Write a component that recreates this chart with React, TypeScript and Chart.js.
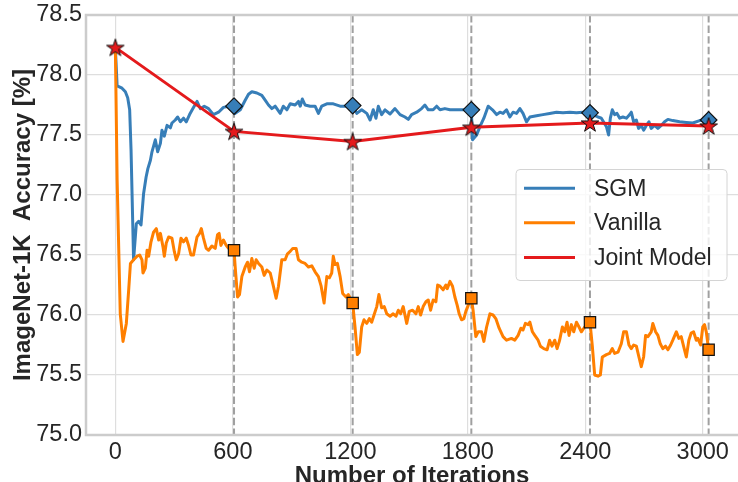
import React, { useEffect, useRef } from "react";
import { Chart, registerables } from "chart.js";

Chart.register(...registerables);

// ---------- data ----------
const xTicks = [0, 600, 1200, 1800, 2400, 3000];
const yTicks = [75.0, 75.5, 76.0, 76.5, 77.0, 77.5, 78.0, 78.5];
const seriesNames = ["SGM", "Vanilla", "Joint Model"];

const epochIters = [0, 606, 1212, 1818, 2424, 3030];
const jointAcc = [78.23, 77.53, 77.445, 77.565, 77.6, 77.575];
const sgmEpochAcc = [77.74, 77.745, 77.71, 77.685, 77.625];
const vanillaEpochAcc = [76.54, 76.1, 76.14, 75.94, 75.71];

const sgmPoints: [number, number][] = [
  [0, 78.22], [9, 77.91], [34, 77.89], [51, 77.86], [63, 77.81], [73, 77.71], [80, 77.38], [93, 76.46],
  [107, 76.76], [119, 76.78], [131, 76.75], [144, 77.01], [157, 77.15], [166, 77.22], [179, 77.29],
  [187, 77.36], [204, 77.46], [216, 77.36], [230, 77.43], [238, 77.54], [250, 77.49], [264, 77.58],
  [281, 77.56], [289, 77.6], [306, 77.625], [318, 77.65], [332, 77.61], [348, 77.64], [362, 77.61],
  [379, 77.67], [396, 77.72], [417, 77.78], [434, 77.72], [454, 77.74], [476, 77.72], [501, 77.67],
  [527, 77.69], [552, 77.73], [578, 77.74], [606, 77.74],
  [612, 77.68], [638, 77.71], [663, 77.79], [680, 77.84], [697, 77.86], [723, 77.85], [748, 77.83],
  [765, 77.79], [782, 77.75], [799, 77.72], [816, 77.74], [842, 77.68], [858, 77.74], [876, 77.71],
  [893, 77.76], [918, 77.75], [935, 77.78], [944, 77.74], [955, 77.8], [969, 77.75], [995, 77.74],
  [1020, 77.74], [1037, 77.68], [1054, 77.74], [1080, 77.76], [1113, 77.76], [1148, 77.74],
  [1182, 77.74], [1212, 77.745],
  [1233, 77.68], [1258, 77.71], [1284, 77.68], [1301, 77.625], [1317, 77.71], [1331, 77.64],
  [1343, 77.74], [1360, 77.67], [1377, 77.71], [1403, 77.675], [1428, 77.72], [1454, 77.67],
  [1479, 77.65], [1496, 77.63], [1513, 77.67], [1539, 77.69], [1564, 77.72], [1581, 77.75],
  [1598, 77.71], [1623, 77.71], [1641, 77.74], [1658, 77.71], [1683, 77.72], [1709, 77.71],
  [1743, 77.71], [1776, 77.71], [1818, 77.71],
  [1824, 77.46], [1845, 77.5], [1862, 77.57], [1882, 77.64], [1904, 77.74], [1926, 77.71],
  [1947, 77.67], [1964, 77.69], [1980, 77.68], [1998, 77.71], [2015, 77.65], [2031, 77.69],
  [2049, 77.68], [2066, 77.72], [2082, 77.68], [2100, 77.61], [2117, 77.65], [2151, 77.66],
  [2184, 77.67], [2218, 77.68], [2253, 77.69], [2286, 77.685], [2321, 77.69], [2355, 77.685],
  [2388, 77.69], [2424, 77.685],
  [2439, 77.67], [2465, 77.65], [2482, 77.64], [2508, 77.57], [2519, 77.5], [2528, 77.64],
  [2538, 77.71], [2550, 77.67], [2562, 77.68], [2576, 77.64], [2592, 77.65], [2610, 77.64],
  [2627, 77.67], [2635, 77.69], [2647, 77.61], [2661, 77.625], [2672, 77.555], [2686, 77.58],
  [2698, 77.54], [2712, 77.58], [2725, 77.61], [2737, 77.555], [2754, 77.58], [2771, 77.555],
  [2788, 77.58], [2805, 77.61], [2822, 77.63], [2847, 77.62], [2882, 77.61], [2916, 77.605],
  [2949, 77.6], [2984, 77.62], [3030, 77.625],
];

const vanillaPoints: [number, number][] = [
  [0, 78.22], [9, 77.125], [25, 76.01], [39, 75.78], [56, 75.93], [68, 76.21], [77, 76.43], [93, 76.46],
  [111, 76.49], [124, 76.5], [136, 76.46], [141, 76.35], [153, 76.39], [162, 76.54], [170, 76.49],
  [182, 76.61], [195, 76.69], [209, 76.72], [221, 76.625], [230, 76.68], [243, 76.57], [250, 76.49],
  [260, 76.6], [272, 76.65], [289, 76.64], [301, 76.53], [311, 76.46], [323, 76.51], [335, 76.64],
  [348, 76.61], [362, 76.64], [374, 76.58], [386, 76.5], [399, 76.5], [417, 76.65], [430, 76.68],
  [439, 76.72], [450, 76.64], [464, 76.555], [476, 76.54], [493, 76.575], [510, 76.555], [522, 76.67],
  [530, 76.68], [539, 76.58], [552, 76.625], [566, 76.58], [578, 76.555], [606, 76.54],
  [612, 76.4], [624, 76.15], [634, 76.17], [646, 76.32], [663, 76.4], [675, 76.44], [685, 76.36],
  [697, 76.47], [709, 76.39], [719, 76.46], [731, 76.43], [748, 76.4], [760, 76.33], [774, 76.375],
  [791, 76.35], [807, 76.24], [821, 76.14], [833, 76.24], [850, 76.46], [867, 76.46], [879, 76.51],
  [893, 76.53], [906, 76.555], [923, 76.555], [935, 76.46], [952, 76.44], [969, 76.43], [986, 76.4],
  [1003, 76.41], [1020, 76.36], [1037, 76.32], [1051, 76.24], [1066, 76.1], [1080, 76.32],
  [1093, 76.31], [1105, 76.35], [1113, 76.49], [1122, 76.42], [1134, 76.43], [1148, 76.32],
  [1161, 76.18], [1178, 76.15], [1190, 76.17], [1212, 76.1],
  [1224, 75.9], [1236, 75.67], [1246, 75.69], [1258, 75.9], [1270, 75.96], [1284, 75.93],
  [1297, 75.97], [1309, 75.94], [1321, 76.0], [1335, 76.07], [1346, 76.17], [1360, 76.06],
  [1373, 76.07], [1386, 76.01], [1403, 75.99], [1419, 76.01], [1433, 75.99], [1445, 76.04],
  [1457, 76.01], [1470, 76.07], [1488, 75.93], [1501, 76.03], [1518, 76.04], [1535, 76.01],
  [1547, 76.07], [1559, 76.0], [1572, 76.07], [1586, 76.11], [1598, 76.125], [1610, 76.04],
  [1623, 76.125], [1637, 76.11], [1646, 76.25], [1658, 76.24], [1674, 76.21], [1688, 76.25],
  [1695, 76.22], [1709, 76.28], [1722, 76.24], [1734, 76.15], [1746, 76.08], [1756, 76.01],
  [1768, 75.96], [1780, 75.97], [1790, 76.03], [1802, 76.08], [1818, 76.14],
  [1827, 76.04], [1841, 75.82], [1853, 75.86], [1870, 75.86], [1882, 75.78], [1896, 75.9],
  [1913, 76.01], [1929, 76.0], [1943, 75.97], [1960, 75.89], [1980, 75.82], [1998, 75.79],
  [2023, 75.805], [2040, 75.79], [2057, 75.83], [2071, 75.89], [2082, 75.875], [2094, 75.93],
  [2108, 75.92], [2117, 75.94], [2130, 75.86], [2142, 75.83], [2159, 75.79], [2171, 75.74],
  [2188, 75.72], [2205, 75.71], [2218, 75.79], [2230, 75.74], [2244, 75.79], [2256, 75.72],
  [2269, 75.79], [2283, 75.9], [2295, 75.86], [2307, 75.94], [2317, 75.83], [2329, 75.92],
  [2341, 75.86], [2355, 75.94], [2368, 75.9], [2380, 75.86], [2397, 75.9], [2424, 75.94],
  [2436, 75.74], [2448, 75.5], [2465, 75.49], [2477, 75.5], [2487, 75.65], [2508, 75.67],
  [2524, 75.68], [2538, 75.72], [2550, 75.68], [2567, 75.69], [2584, 75.76], [2596, 75.86],
  [2610, 75.86], [2623, 75.75], [2635, 75.72], [2647, 75.75], [2661, 75.74], [2674, 75.65],
  [2686, 75.57], [2698, 75.65], [2708, 75.83], [2720, 75.82], [2737, 75.86], [2745, 75.93],
  [2759, 75.86], [2771, 75.83], [2783, 75.76], [2796, 75.72], [2810, 75.74], [2822, 75.71],
  [2836, 75.75], [2847, 75.79], [2865, 75.86], [2878, 75.805], [2890, 75.82], [2902, 75.74],
  [2916, 75.65], [2929, 75.79], [2941, 75.85], [2953, 75.86], [2967, 75.79], [2975, 75.805],
  [2989, 75.75], [3000, 75.9], [3009, 75.92], [3018, 75.86], [3030, 75.71],
];

// ---------- style ----------
const BLUE = "#377eb8";
const ORANGE = "#ff7f00";
const RED = "#e41a1c";
const FONT = "'Liberation Sans', Arial, Helvetica, sans-serif";
const TEXT = "#262626";
const W = 738;
const H = 482;

function makeStar(R: number, fill: string, stroke: string, lw: number): HTMLCanvasElement {
  const half = Math.ceil(R + lw + 1);
  const c = document.createElement("canvas");
  c.width = half * 2;
  c.height = half * 2;
  const ctx = c.getContext("2d")!;
  const r = R * 0.381966;
  ctx.beginPath();
  for (let i = 0; i < 10; i++) {
    const rad = i % 2 === 0 ? R : r;
    const a = -Math.PI / 2 + (i * Math.PI) / 5;
    const px = half + rad * Math.cos(a);
    const py = half + 0.8 + rad * Math.sin(a);
    if (i === 0) ctx.moveTo(px, py);
    else ctx.lineTo(px, py);
  }
  ctx.closePath();
  ctx.fillStyle = fill;
  ctx.fill();
  ctx.lineWidth = lw;
  ctx.strokeStyle = stroke;
  ctx.lineJoin = "miter";
  ctx.stroke();
  return c;
}

const decorPlugin = {
  id: "decor",
  beforeDatasetsDraw(chart: any) {
    const { ctx, chartArea } = chart;
    const xs = chart.scales.x;
    ctx.save();
    // dashed epoch lines
    ctx.strokeStyle = "rgba(128,128,128,0.75)";
    ctx.lineWidth = 2;
    ctx.setLineDash([7.4, 3.2]);
    epochIters.slice(1).forEach((it) => {
      const px = xs.getPixelForValue(it);
      ctx.beginPath();
      ctx.moveTo(px, chartArea.top);
      ctx.lineTo(px, chartArea.bottom);
      ctx.stroke();
    });
    ctx.setLineDash([]);
    // spines
    ctx.strokeStyle = "#cccccc";
    ctx.lineWidth = 2.5;
    ctx.beginPath();
    ctx.moveTo(chartArea.right + 2, chartArea.top);
    ctx.lineTo(chartArea.left, chartArea.top);
    ctx.lineTo(chartArea.left, chartArea.bottom);
    ctx.lineTo(chartArea.right + 2, chartArea.bottom);
    ctx.stroke();
    ctx.restore();
  },
  afterDraw(chart: any) {
    const { ctx, chartArea } = chart;
    ctx.save();
    // legend
    const bx = 516, by = 169.5, bw = 211, bh = 111;
    ctx.beginPath();
    if (ctx.roundRect) ctx.roundRect(bx, by, bw, bh, 4);
    else ctx.rect(bx, by, bw, bh);
    ctx.fillStyle = "rgba(255,255,255,0.8)";
    ctx.fill();
    ctx.strokeStyle = "#d4d4d4";
    ctx.lineWidth = 1;
    ctx.stroke();
    const legendColors = [BLUE, ORANGE, RED];
    const rowsY = [188.3, 222.8, 257.5];
    ctx.font = `23px ${FONT}`;
    ctx.textAlign = "left";
    ctx.textBaseline = "middle";
    seriesNames.forEach((name, i) => {
      ctx.strokeStyle = legendColors[i];
      ctx.lineWidth = 3;
      ctx.beginPath();
      ctx.moveTo(524, rowsY[i]);
      ctx.lineTo(575, rowsY[i]);
      ctx.stroke();
      ctx.fillStyle = TEXT;
      ctx.fillText(name, 594, rowsY[i] + 1);
    });
    // axis titles
    ctx.fillStyle = TEXT;
    ctx.font = `bold 24px ${FONT}`;
    ctx.textAlign = "center";
    ctx.textBaseline = "alphabetic";
    ctx.fillText("Number of Iterations", 412, 482.5);
    ctx.translate(29.5, (chartArea.top + chartArea.bottom) / 2);
    ctx.rotate(-Math.PI / 2);
    ctx.fillText("ImageNet-1K  Accuracy [%]", 0, 0);
    ctx.restore();
  },
};

export default function App() {
  const ref = useRef<HTMLCanvasElement | null>(null);

  useEffect(() => {
    if (!ref.current) return;
    const star = makeStar(9.2, RED, "#111111", 1);
    const toXY = (pts: [number, number][]) => pts.map(([x, y]) => ({ x, y }));
    const chart = new Chart(ref.current, {
      type: "line",
      data: {
        datasets: [
          {
            label: seriesNames[2],
            data: epochIters.map((x, i) => ({ x, y: jointAcc[i] })),
            borderColor: RED,
            backgroundColor: RED,
            borderWidth: 3,
            pointStyle: star as any,
            pointRadius: 9,
            tension: 0,
            order: 0,
          },
          {
            label: "SGM epochs",
            data: epochIters.slice(1).map((x, i) => ({ x, y: sgmEpochAcc[i] })),
            showLine: false,
            pointStyle: "rectRot",
            pointRadius: 8.3,
            pointBackgroundColor: BLUE,
            pointBorderColor: "#111111",
            pointBorderWidth: 1.2,
            order: 1,
          },
          {
            label: "Vanilla epochs",
            data: epochIters.slice(1).map((x, i) => ({ x, y: vanillaEpochAcc[i] })),
            showLine: false,
            pointStyle: "rect",
            pointRadius: 8,
            pointBackgroundColor: ORANGE,
            pointBorderColor: "#111111",
            pointBorderWidth: 1.2,
            order: 2,
          },
          {
            label: seriesNames[1],
            data: toXY(vanillaPoints),
            borderColor: ORANGE,
            borderWidth: 3,
            pointRadius: 0,
            tension: 0,
            borderJoinStyle: "round",
            order: 3,
          },
          {
            label: seriesNames[0],
            data: toXY(sgmPoints),
            borderColor: BLUE,
            borderWidth: 3,
            pointRadius: 0,
            tension: 0,
            borderJoinStyle: "round",
            order: 4,
          },
        ],
      },
      options: {
        animation: false,
        responsive: false,
        maintainAspectRatio: false,
        layout: { autoPadding: false, padding: { top: 15, left: 0, right: 0, bottom: 0 } },
        plugins: {
          legend: { display: false },
          tooltip: { enabled: false },
        },
        scales: {
          x: {
            type: "linear",
            min: -150,
            max: 3180,
            afterBuildTicks: (s: any) => {
              s.ticks = xTicks.map((v) => ({ value: v }));
            },
            afterFit: (s: any) => {
              s.height = 47;
              s.paddingLeft = 0;
              s.paddingRight = 0;
            },
            grid: { color: "#dedede", lineWidth: 1.2, drawTicks: false },
            border: { display: false },
            ticks: {
              autoSkip: false,
              maxRotation: 0,
              padding: 3,
              color: TEXT,
              font: { family: FONT, size: 23.5 },
              callback: (v: any) => String(v),
            },
          },
          y: {
            type: "linear",
            min: 75,
            max: 78.5,
            afterBuildTicks: (s: any) => {
              s.ticks = yTicks.map((v) => ({ value: v }));
            },
            afterFit: (s: any) => {
              s.width = 86;
              s.paddingTop = 0;
              s.paddingBottom = 0;
            },
            grid: { color: "#dedede", lineWidth: 1.2, drawTicks: false },
            border: { display: false },
            ticks: {
              padding: 4,
              color: TEXT,
              font: { family: FONT, size: 23.5 },
              callback: (v: any) => Number(v).toFixed(1),
            },
          },
        },
      },
      plugins: [decorPlugin],
    } as any);
    return () => chart.destroy();
  }, []);

  return (
    <div style={{ position: "fixed", left: 0, top: 0, width: W, height: H, background: "#fff" }}>
      <canvas ref={ref} width={W} height={H} style={{ display: "block", width: W, height: H }} />
    </div>
  );
}
